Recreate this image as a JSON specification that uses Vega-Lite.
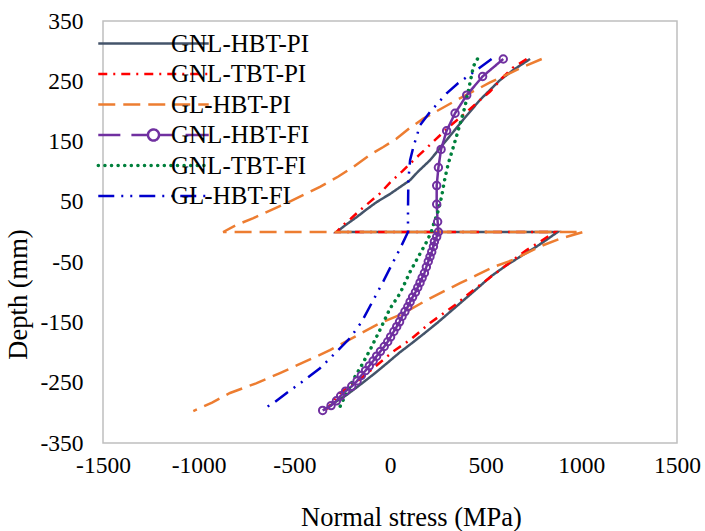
{
  "$schema": "https://vega.github.io/schema/vega-lite/v6.json",
  "width": 574,
  "height": 422,
  "autosize": {"type": "none"},
  "padding": {"left": 103, "top": 21, "right": 28, "bottom": 88},
  "background": "white",
  "config": {
    "view": {"stroke": "#BFBFBF", "strokeWidth": 1.5},
    "font": "Liberation Serif",
    "axis": {"grid": false, "domain": false, "ticks": false, "labelFont": "Liberation Serif", "labelFontSize": 23.5, "labelColor": "black", "titleFont": "Liberation Serif", "titleFontSize": 26.5, "titleFontWeight": "normal", "titleColor": "black", "labelFlush": false, "labelOverlap": false, "labelExpr": "'' + datum.value"}
  },
  "data": {"values": [
    {"s":"GNL-HBT-PI","i":1,"x":732,"d":287},{"s":"GNL-HBT-PI","i":2,"x":650,"d":270},{"s":"GNL-HBT-PI","i":3,"x":575,"d":252},{"s":"GNL-HBT-PI","i":4,"x":470,"d":219},{"s":"GNL-HBT-PI","i":5,"x":382,"d":186},{"s":"GNL-HBT-PI","i":6,"x":297,"d":153},{"s":"GNL-HBT-PI","i":7,"x":209,"d":119},{"s":"GNL-HBT-PI","i":8,"x":146,"d":100},{"s":"GNL-HBT-PI","i":9,"x":105,"d":86},{"s":"GNL-HBT-PI","i":10,"x":50,"d":74},{"s":"GNL-HBT-PI","i":11,"x":0,"d":63},{"s":"GNL-HBT-PI","i":12,"x":-68,"d":50},{"s":"GNL-HBT-PI","i":13,"x":-120,"d":38},{"s":"GNL-HBT-PI","i":14,"x":-173,"d":25},{"s":"GNL-HBT-PI","i":15,"x":-230,"d":12},{"s":"GNL-HBT-PI","i":16,"x":-280,"d":0},{"s":"GNL-HBT-PI","i":17,"x":876,"d":0},{"s":"GNL-HBT-PI","i":18,"x":818,"d":-13},{"s":"GNL-HBT-PI","i":19,"x":767,"d":-24},{"s":"GNL-HBT-PI","i":20,"x":690,"d":-39},{"s":"GNL-HBT-PI","i":21,"x":610,"d":-55},{"s":"GNL-HBT-PI","i":22,"x":530,"d":-73},{"s":"GNL-HBT-PI","i":23,"x":440,"d":-98},{"s":"GNL-HBT-PI","i":24,"x":345,"d":-124},{"s":"GNL-HBT-PI","i":25,"x":250,"d":-150},{"s":"GNL-HBT-PI","i":26,"x":180,"d":-168},{"s":"GNL-HBT-PI","i":27,"x":120,"d":-183},{"s":"GNL-HBT-PI","i":28,"x":50,"d":-200},{"s":"GNL-HBT-PI","i":29,"x":-17,"d":-218},{"s":"GNL-HBT-PI","i":30,"x":-70,"d":-232},{"s":"GNL-HBT-PI","i":31,"x":-122,"d":-245},{"s":"GNL-HBT-PI","i":32,"x":-175,"d":-258},{"s":"GNL-HBT-PI","i":33,"x":-226,"d":-270},{"s":"GNL-HBT-PI","i":34,"x":-290,"d":-283},{"s":"GNL-HBT-PI","i":35,"x":-345,"d":-295},
    {"s":"GNL-TBT-PI","i":1,"x":714,"d":287},{"s":"GNL-TBT-PI","i":2,"x":640,"d":272},{"s":"GNL-TBT-PI","i":3,"x":584,"d":255},{"s":"GNL-TBT-PI","i":4,"x":523,"d":233},{"s":"GNL-TBT-PI","i":5,"x":460,"d":216},{"s":"GNL-TBT-PI","i":6,"x":401,"d":199},{"s":"GNL-TBT-PI","i":7,"x":310,"d":175},{"s":"GNL-TBT-PI","i":8,"x":227,"d":150},{"s":"GNL-TBT-PI","i":9,"x":150,"d":127},{"s":"GNL-TBT-PI","i":10,"x":65,"d":101},{"s":"GNL-TBT-PI","i":11,"x":0,"d":82},{"s":"GNL-TBT-PI","i":12,"x":-52,"d":64},{"s":"GNL-TBT-PI","i":13,"x":-105,"d":50},{"s":"GNL-TBT-PI","i":14,"x":-157,"d":36},{"s":"GNL-TBT-PI","i":15,"x":-205,"d":22},{"s":"GNL-TBT-PI","i":16,"x":-244,"d":12},{"s":"GNL-TBT-PI","i":17,"x":-279,"d":0},{"s":"GNL-TBT-PI","i":18,"x":860,"d":0},{"s":"GNL-TBT-PI","i":19,"x":790,"d":-15},{"s":"GNL-TBT-PI","i":20,"x":714,"d":-30},{"s":"GNL-TBT-PI","i":21,"x":645,"d":-46},{"s":"GNL-TBT-PI","i":22,"x":575,"d":-63},{"s":"GNL-TBT-PI","i":23,"x":453,"d":-92},{"s":"GNL-TBT-PI","i":24,"x":340,"d":-121},{"s":"GNL-TBT-PI","i":25,"x":209,"d":-151},{"s":"GNL-TBT-PI","i":26,"x":105,"d":-179},{"s":"GNL-TBT-PI","i":27,"x":17,"d":-198},{"s":"GNL-TBT-PI","i":28,"x":-35,"d":-212},{"s":"GNL-TBT-PI","i":29,"x":-140,"d":-240},{"s":"GNL-TBT-PI","i":30,"x":-200,"d":-254},{"s":"GNL-TBT-PI","i":31,"x":-261,"d":-267},{"s":"GNL-TBT-PI","i":32,"x":-330,"d":-294},
    {"s":"GL-HBT-PI","i":1,"x":793,"d":287},{"s":"GL-HBT-PI","i":2,"x":697,"d":274},{"s":"GL-HBT-PI","i":3,"x":523,"d":248},{"s":"GL-HBT-PI","i":4,"x":349,"d":219},{"s":"GL-HBT-PI","i":5,"x":174,"d":188},{"s":"GL-HBT-PI","i":6,"x":105,"d":173},{"s":"GL-HBT-PI","i":7,"x":35,"d":155},{"s":"GL-HBT-PI","i":8,"x":-35,"d":141},{"s":"GL-HBT-PI","i":9,"x":-105,"d":128},{"s":"GL-HBT-PI","i":10,"x":-192,"d":108},{"s":"GL-HBT-PI","i":11,"x":-270,"d":92},{"s":"GL-HBT-PI","i":12,"x":-366,"d":75},{"s":"GL-HBT-PI","i":13,"x":-540,"d":48},{"s":"GL-HBT-PI","i":14,"x":-714,"d":23},{"s":"GL-HBT-PI","i":15,"x":-800,"d":12},{"s":"GL-HBT-PI","i":16,"x":-872,"d":0},{"s":"GL-HBT-PI","i":17,"x":1011,"d":0},{"s":"GL-HBT-PI","i":18,"x":890,"d":-11},{"s":"GL-HBT-PI","i":19,"x":800,"d":-22},{"s":"GL-HBT-PI","i":20,"x":714,"d":-35},{"s":"GL-HBT-PI","i":21,"x":645,"d":-46},{"s":"GL-HBT-PI","i":22,"x":540,"d":-58},{"s":"GL-HBT-PI","i":23,"x":450,"d":-72},{"s":"GL-HBT-PI","i":24,"x":366,"d":-85},{"s":"GL-HBT-PI","i":25,"x":296,"d":-96},{"s":"GL-HBT-PI","i":26,"x":192,"d":-113},{"s":"GL-HBT-PI","i":27,"x":70,"d":-135},{"s":"GL-HBT-PI","i":28,"x":-52,"d":-151},{"s":"GL-HBT-PI","i":29,"x":-180,"d":-173},{"s":"GL-HBT-PI","i":30,"x":-314,"d":-196},{"s":"GL-HBT-PI","i":31,"x":-450,"d":-216},{"s":"GL-HBT-PI","i":32,"x":-575,"d":-234},{"s":"GL-HBT-PI","i":33,"x":-700,"d":-251},{"s":"GL-HBT-PI","i":34,"x":-836,"d":-267},{"s":"GL-HBT-PI","i":35,"x":-930,"d":-283},{"s":"GL-HBT-PI","i":36,"x":-1028,"d":-297},
    {"s":"GNL-HBT-FI","i":1,"x":592,"d":287},{"s":"GNL-HBT-FI","i":2,"x":484,"d":258},{"s":"GNL-HBT-FI","i":3,"x":401,"d":227},{"s":"GNL-HBT-FI","i":4,"x":340,"d":197},{"s":"GNL-HBT-FI","i":5,"x":296,"d":168},{"s":"GNL-HBT-FI","i":6,"x":267,"d":137},{"s":"GNL-HBT-FI","i":7,"x":253,"d":107},{"s":"GNL-HBT-FI","i":8,"x":244,"d":77},{"s":"GNL-HBT-FI","i":9,"x":244,"d":46},{"s":"GNL-HBT-FI","i":10,"x":249,"d":17},{"s":"GNL-HBT-FI","i":11,"x":253,"d":0},{"s":"GNL-HBT-FI","i":12,"x":244,"d":-8},{"s":"GNL-HBT-FI","i":13,"x":232,"d":-16},{"s":"GNL-HBT-FI","i":14,"x":227,"d":-24},{"s":"GNL-HBT-FI","i":15,"x":218,"d":-33},{"s":"GNL-HBT-FI","i":16,"x":209,"d":-41},{"s":"GNL-HBT-FI","i":17,"x":200,"d":-49},{"s":"GNL-HBT-FI","i":18,"x":190,"d":-58},{"s":"GNL-HBT-FI","i":19,"x":180,"d":-68},{"s":"GNL-HBT-FI","i":20,"x":168,"d":-76},{"s":"GNL-HBT-FI","i":21,"x":157,"d":-84},{"s":"GNL-HBT-FI","i":22,"x":145,"d":-92},{"s":"GNL-HBT-FI","i":23,"x":133,"d":-100},{"s":"GNL-HBT-FI","i":24,"x":118,"d":-108},{"s":"GNL-HBT-FI","i":25,"x":105,"d":-116},{"s":"GNL-HBT-FI","i":26,"x":93,"d":-124},{"s":"GNL-HBT-FI","i":27,"x":78,"d":-132},{"s":"GNL-HBT-FI","i":28,"x":63,"d":-140},{"s":"GNL-HBT-FI","i":29,"x":50,"d":-149},{"s":"GNL-HBT-FI","i":30,"x":35,"d":-157},{"s":"GNL-HBT-FI","i":31,"x":20,"d":-165},{"s":"GNL-HBT-FI","i":32,"x":3,"d":-174},{"s":"GNL-HBT-FI","i":33,"x":-12,"d":-182},{"s":"GNL-HBT-FI","i":34,"x":-30,"d":-190},{"s":"GNL-HBT-FI","i":35,"x":-50,"d":-198},{"s":"GNL-HBT-FI","i":36,"x":-70,"d":-206},{"s":"GNL-HBT-FI","i":37,"x":-88,"d":-214},{"s":"GNL-HBT-FI","i":38,"x":-108,"d":-222},{"s":"GNL-HBT-FI","i":39,"x":-128,"d":-230},{"s":"GNL-HBT-FI","i":40,"x":-150,"d":-238},{"s":"GNL-HBT-FI","i":41,"x":-172,"d":-247},{"s":"GNL-HBT-FI","i":42,"x":-200,"d":-256},{"s":"GNL-HBT-FI","i":43,"x":-232,"d":-264},{"s":"GNL-HBT-FI","i":44,"x":-258,"d":-272},{"s":"GNL-HBT-FI","i":45,"x":-280,"d":-280},{"s":"GNL-HBT-FI","i":46,"x":-308,"d":-288},{"s":"GNL-HBT-FI","i":47,"x":-352,"d":-296},
    {"s":"GNL-TBT-FI","i":1,"x":457,"d":287},{"s":"GNL-TBT-FI","i":2,"x":436,"d":275},{"s":"GNL-TBT-FI","i":3,"x":418,"d":247},{"s":"GNL-TBT-FI","i":4,"x":392,"d":208},{"s":"GNL-TBT-FI","i":5,"x":357,"d":169},{"s":"GNL-TBT-FI","i":6,"x":331,"d":141},{"s":"GNL-TBT-FI","i":7,"x":305,"d":114},{"s":"GNL-TBT-FI","i":8,"x":287,"d":89},{"s":"GNL-TBT-FI","i":9,"x":270,"d":59},{"s":"GNL-TBT-FI","i":10,"x":253,"d":36},{"s":"GNL-TBT-FI","i":11,"x":227,"d":12},{"s":"GNL-TBT-FI","i":12,"x":215,"d":0},{"s":"GNL-TBT-FI","i":13,"x":192,"d":-16},{"s":"GNL-TBT-FI","i":14,"x":148,"d":-41},{"s":"GNL-TBT-FI","i":15,"x":105,"d":-66},{"s":"GNL-TBT-FI","i":16,"x":52,"d":-102},{"s":"GNL-TBT-FI","i":17,"x":0,"d":-127},{"s":"GNL-TBT-FI","i":18,"x":-52,"d":-162},{"s":"GNL-TBT-FI","i":19,"x":-105,"d":-196},{"s":"GNL-TBT-FI","i":20,"x":-148,"d":-221},{"s":"GNL-TBT-FI","i":21,"x":-192,"d":-245},{"s":"GNL-TBT-FI","i":22,"x":-226,"d":-267},{"s":"GNL-TBT-FI","i":23,"x":-253,"d":-284},{"s":"GNL-TBT-FI","i":24,"x":-270,"d":-296},
    {"s":"GL-HBT-FI","i":1,"x":531,"d":287},{"s":"GL-HBT-FI","i":2,"x":453,"d":269},{"s":"GL-HBT-FI","i":3,"x":357,"d":247},{"s":"GL-HBT-FI","i":4,"x":296,"d":230},{"s":"GL-HBT-FI","i":5,"x":209,"d":199},{"s":"GL-HBT-FI","i":6,"x":157,"d":177},{"s":"GL-HBT-FI","i":7,"x":122,"d":141},{"s":"GL-HBT-FI","i":8,"x":105,"d":119},{"s":"GL-HBT-FI","i":9,"x":96,"d":86},{"s":"GL-HBT-FI","i":10,"x":94,"d":36},{"s":"GL-HBT-FI","i":11,"x":94,"d":0},{"s":"GL-HBT-FI","i":12,"x":52,"d":-28},{"s":"GL-HBT-FI","i":13,"x":0,"d":-60},{"s":"GL-HBT-FI","i":14,"x":-35,"d":-82},{"s":"GL-HBT-FI","i":15,"x":-96,"d":-118},{"s":"GL-HBT-FI","i":16,"x":-148,"d":-149},{"s":"GL-HBT-FI","i":17,"x":-209,"d":-176},{"s":"GL-HBT-FI","i":18,"x":-287,"d":-201},{"s":"GL-HBT-FI","i":19,"x":-366,"d":-226},{"s":"GL-HBT-FI","i":20,"x":-444,"d":-245},{"s":"GL-HBT-FI","i":21,"x":-540,"d":-267},{"s":"GL-HBT-FI","i":22,"x":-610,"d":-284},{"s":"GL-HBT-FI","i":23,"x":-670,"d":-295}
  ]},
  "encoding": {
    "x": {"field": "x", "type": "quantitative", "scale": {"domain": [-1500, 1500], "nice": false, "zero": false},
      "axis": {"values": [-1500, -1000, -500, 0, 500, 1000, 1500], "title": "Normal stress (MPa)", "labelPadding": 10, "titleX": 308, "titleY": 74, "titleBaseline": "middle", "titleAlign": "center", "titleAnchor": null}},
    "y": {"field": "d", "type": "quantitative", "scale": {"domain": [-350, 350], "nice": false, "zero": false},
      "axis": {"values": [-350, -250, -150, -50, 50, 150, 250, 350], "title": "Depth (mm)", "labelPadding": 20, "titleX": -85, "titleY": 273, "titleAngle": -90, "titleBaseline": "middle", "titleAlign": "center", "titleAnchor": null}}
  },
  "layer": [
    {
      "transform": [{"filter": "datum.s !== 'GNL-TBT-FI'"}],
      "mark": {"type": "line", "strokeWidth": 2.5, "strokeCap": "butt"},
      "encoding": {
        "color": {"field": "s", "type": "nominal",
          "scale": {"domain": ["GNL-HBT-PI", "GNL-TBT-PI", "GL-HBT-PI", "GNL-HBT-FI", "GNL-TBT-FI", "GL-HBT-FI"], "range": ["#44546A", "#FF0000", "#ED7D31", "#7030A0", "#00803C", "#0000CC"]},
          "legend": {"title": null, "orient": "none", "legendX": 38, "legendY": 10, "padding": 0, "symbolType": "stroke", "symbolSize": 12200, "symbolStrokeWidth": 2.5, "labelFont": "Liberation Serif", "labelFontSize": 25, "labelColor": "black", "labelOffset": 5, "rowPadding": 4.5, "labelLimit": 300,
            "encode": {"symbols": {"update": {
              "shape": {"signal": "datum.value === 'GNL-HBT-FI' ? 'M-1,0H-0.6M-0.4,0H-0.1M0.1,0H0.35M0.58,0H1M-0.1,0A0.1,0.1,0,1,1,0.1,0A0.1,0.1,0,1,1,-0.1,0' : 'stroke'"},
              "strokeCap": {"signal": "datum.value === 'GNL-TBT-FI' ? 'round' : 'butt'"},
              "strokeWidth": {"signal": "datum.value === 'GNL-TBT-FI' ? 3.5 : 2.5"}
            }}}}},
        "strokeDash": {"field": "s", "type": "nominal",
          "scale": {"domain": ["GNL-HBT-PI", "GNL-TBT-PI", "GL-HBT-PI", "GNL-HBT-FI", "GNL-TBT-FI", "GL-HBT-FI"], "range": [[1, 0], [9, 6, 2, 6], [17, 8], [1, 0], [0.1, 6.5], [16, 7, 2, 7, 2, 7]]},
          "legend": {"title": null, "orient": "none", "legendX": 38, "legendY": 10, "padding": 0, "symbolType": "stroke", "symbolSize": 12200, "symbolStrokeWidth": 2.5, "labelFont": "Liberation Serif", "labelFontSize": 25, "labelColor": "black", "labelOffset": 5, "rowPadding": 4.5, "labelLimit": 300,
            "encode": {"symbols": {"update": {
              "shape": {"signal": "datum.value === 'GNL-HBT-FI' ? 'M-1,0H-0.6M-0.4,0H-0.1M0.1,0H0.35M0.58,0H1M-0.1,0A0.1,0.1,0,1,1,0.1,0A0.1,0.1,0,1,1,-0.1,0' : 'stroke'"},
              "strokeCap": {"signal": "datum.value === 'GNL-TBT-FI' ? 'round' : 'butt'"},
              "strokeWidth": {"signal": "datum.value === 'GNL-TBT-FI' ? 3.5 : 2.5"}
            }}}}},
        "order": {"field": "i", "type": "quantitative"}
      }
    },
    {
      "transform": [{"filter": "datum.s === 'GNL-TBT-FI'"}],
      "mark": {"type": "line", "strokeWidth": 3.5, "strokeCap": "round"},
      "encoding": {
        "color": {"field": "s", "type": "nominal"},
        "strokeDash": {"field": "s", "type": "nominal"},
        "order": {"field": "i", "type": "quantitative"}
      }
    },
    {
      "transform": [{"filter": "datum.s === 'GNL-HBT-FI'"}],
      "mark": {"type": "point", "shape": "circle", "filled": false, "color": "#7030A0", "size": 55, "strokeWidth": 2, "opacity": 1},
      "encoding": {}
    }
  ]
}
